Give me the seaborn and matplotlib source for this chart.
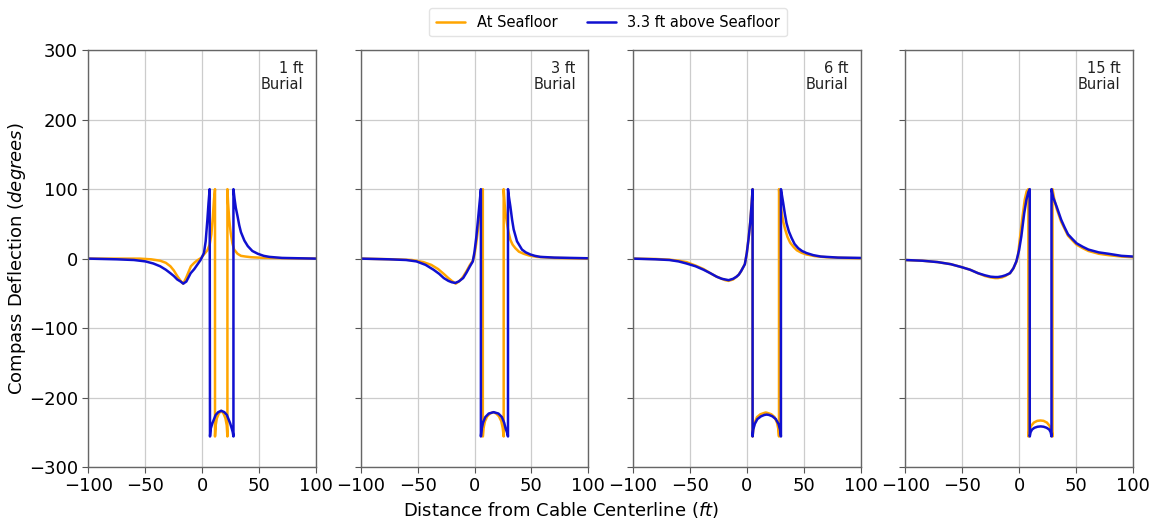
import numpy as np
import pandas as pd
import matplotlib
matplotlib.use("Agg")
import matplotlib.pyplot as plt
import seaborn as sns
from matplotlib.lines import Line2D

# ---------------- data ----------------
panels = ["1 ft\nBurial", "3 ft\nBurial", "6 ft\nBurial", "15 ft\nBurial"]
series_names = ["At Seafloor", "3.3 ft above Seafloor"]

# 1 ft burial
x_1ft_sea = [-100, -70, -55, -45, -37, -32, -28, -25, -22, -19, -16.7, -14, -10, -7, -4.3, -1, 1.5, 4.5, 6.5, 8, 9.3, 10.3, 11.2,
             11.2, 11.8, 12.8, 14.5, 16.6, 18.7, 20.4, 21.5, 22.1, 22.1, 22.7, 23.7, 25, 26.5, 28, 31, 34, 38, 43, 55, 75, 100]
y_1ft_sea = [0, 0, 0, -1, -3, -6, -11, -17, -25, -32, -36, -27, -11, -6, -2.4, 1, 6, 12, 20, 35, 60, 85, 100,
             -256, -240, -230, -223, -219, -223, -230, -240, -256, 100, 80, 56, 37, 22, 13, 7, 4, 3, 2, 1, 0.5, 0]
x_1ft_up = [-100, -75, -60, -50, -43, -37, -32, -28, -25, -22, -19, -16.7, -14, -10.2, -7, -4.3, -1.5, 1.5, 3, 4.5, 5.5, 6.5,
            6.8, 7.4, 8.9, 11.8, 14, 16.7, 19.4, 21.6, 24.5, 26, 26.8, 27.4, 27.4, 28.3, 29.5, 31, 32.5, 34, 37, 40, 44, 48.8, 54, 59, 70, 85, 100]
y_1ft_up = [0, -1, -2, -4, -7, -11, -16, -21, -25, -30, -33, -36, -33, -21, -15, -8.6, -2, 8, 25, 56, 80, 100,
            -256, -245, -237, -225, -221, -219, -221, -225, -237, -245, -250, -256, 100, 87, 73, 61, 48, 38, 26, 18, 11, 7, 4, 2.5, 1, 0.5, 0]

# 3 ft burial
x_3ft_sea = [-100, -70, -55, -45, -38, -32, -27, -23, -20, -16.5, -13, -10, -7, -4, -1.5, 0, 1.5, 3, 4.5, 6, 7.3,
             7.3, 7.9, 9.2, 11.2, 13.6, 16.4, 19.1, 21.5, 23.5, 24.8, 25.6, 25.6, 26.5, 27.5, 28.5, 30, 31.5, 33.5, 35.9, 39, 43.2, 48, 55, 70, 100]
y_3ft_sea = [0, -1, -2, -5, -9, -15, -22, -28, -32, -36, -32, -26, -18, -9, -3, 6, 22, 42, 62, 82, 100,
             -256, -244, -234, -227, -223, -221, -223, -227, -234, -244, -256, 100, 78, 62, 51, 37, 27, 20, 15, 10, 7, 4.5, 2.5, 1, 0]
x_3ft_up = [-100, -75, -60, -51, -43, -36, -31, -27, -23, -20, -17, -14, -10, -7, -4, -1.5, 0, 1.5, 3, 4.3, 5.6,
            5.6, 6.3, 7.5, 9.5, 12.5, 16.8, 21, 24, 26, 27.4, 28.5, 29.4, 29.4, 30.3, 31.5, 33, 34.4, 37.3, 41.7, 45, 49, 53, 57.8, 70, 85, 100]
y_3ft_up = [0, -1, -2, -4, -9, -16, -22, -28, -32, -34, -35, -33, -28, -20, -11, -4, 10, 30, 55, 78, 100,
            -256, -245, -236, -228, -223, -221, -223, -228, -236, -245, -250, -256, 100, 88, 75, 56, 42, 25, 13, 9, 6, 4, 2.5, 1.5, 1, 0.5]

# 6 ft burial
x_6ft_sea = [-100, -80, -68, -60, -53, -45, -38, -32, -26.5, -22, -19, -16, -12, -9, -7, -5, -3, -1.7, 0, 1.5, 3, 4.2, 5.1,
             5.1, 5.7, 7.0, 9.0, 12, 15.5, 16.7, 18, 21.5, 24.4, 26.5, 27.7, 28.3, 28.3, 29.3, 30.7, 32, 33.7, 35.8, 38.1, 41, 44, 48, 52.5, 60, 70, 85, 100]
y_6ft_sea = [0, -0.5, -1.5, -3, -5, -10, -15, -21, -26, -29, -31, -32, -30, -26, -23, -18, -12, -8, 8, 28, 52, 78, 100,
             -256, -245, -236, -228, -224, -222, -221.5, -222, -224, -228, -236, -245, -256, 100, 82, 66, 53, 42, 31, 23, 17, 12, 8.5, 6, 3.5, 2, 1, 0.5]
x_6ft_up = [-100, -80, -68, -60, -53, -45, -38, -32, -26.5, -22, -19, -16, -12, -9, -7, -5, -3, -1.7, 0, 1.5, 3, 4.2, 5.1,
            5.1, 5.7, 7.0, 9.3, 12.5, 15.5, 17.5, 19.5, 22.5, 25.5, 27.9, 29.2, 30, 30, 31, 32, 33.4, 34.9, 37, 39.3, 42, 45.2, 48.5, 52.5, 58.4, 65, 80, 100]
y_6ft_up = [0, -1, -2, -4, -7, -11, -16, -21, -26, -29, -30, -31, -29, -26, -23, -18, -12, -8, 8, 28, 52, 78, 100,
            -256, -246, -238, -231, -227, -225, -224.5, -225, -227, -231, -238, -246, -256, 100, 90, 80, 65, 51, 39, 30, 21, 15, 11, 8, 5, 3, 1.5, 1]

# 15 ft burial
x_15ft_sea = [-100, -85, -71.5, -60, -51, -43, -36, -30, -25, -21, -18.5, -15, -12, -8, -5, -2.4, -1, 0.6, 3, 5, 6.7, 8.2,
              8.2, 9, 10.5, 13, 16, 18.8, 21.5, 24.5, 27, 28.6, 29.4, 29.4, 31, 33, 37, 40, 43, 47, 50.6, 56, 61, 70, 78.5, 90, 100]
y_15ft_sea = [-2, -3, -5, -8, -12, -16, -21, -25, -27, -28, -28, -27, -25, -21, -14, -5, 4, 27, 60, 85, 97, 100,
              -256, -248, -241, -236, -233.5, -233, -233.5, -236, -241, -248, -256, 100, 85, 72, 53, 43, 33, 26, 20, 15, 11, 7, 5, 3, 2]
x_15ft_up = [-100, -85, -71.5, -60, -51, -43, -36, -30, -25, -21, -18.5, -15, -12, -8, -5, -2.4, 0, 2, 4.5, 6.5, 8.2, 9.4,
             9.4, 10.1, 11.4, 13.5, 16.2, 19, 21.6, 24.2, 26.5, 27.8, 28.5, 28.5, 30, 33, 37, 40, 43, 47, 50.6, 56, 61, 70, 78.5, 90, 100]
y_15ft_up = [-2, -3, -5, -8, -12, -16, -21, -24, -26, -26.5, -26.5, -25.5, -24, -21, -14, -4, 12, 32, 65, 85, 96, 100,
             -256, -250, -246, -243.5, -242, -241.5, -242, -243.5, -246, -250, -256, 100, 88, 75, 56, 45, 35, 28, 22, 17, 13, 9, 7, 4, 3]

curves = [
    ((x_1ft_sea, y_1ft_sea), (x_1ft_up, y_1ft_up)),
    ((x_3ft_sea, y_3ft_sea), (x_3ft_up, y_3ft_up)),
    ((x_6ft_sea, y_6ft_sea), (x_6ft_up, y_6ft_up)),
    ((x_15ft_sea, y_15ft_sea), (x_15ft_up, y_15ft_up)),
]

x_ticks = [-100, -50, 0, 50, 100]
y_ticks = [-300, -200, -100, 0, 100, 200, 300]
colors = {"At Seafloor": "#FFA500", "3.3 ft above Seafloor": "#1010D0"}

# ---------------- build tidy frame ----------------
rows = []
for pi, pair in enumerate(curves):
    for name, (xs, ys) in zip(series_names, pair):
        for k, (xv, yv) in enumerate(zip(xs, ys)):
            rows.append({"panel": pi, "series": name, "order": k, "x": xv, "y": yv})
df = pd.DataFrame(rows)

# ---------------- plot ----------------
sns.set_style("ticks")
plt.rcParams["font.family"] = ["DejaVu Sans"]
plt.rcParams["text.color"] = "black"
plt.rcParams["xtick.color"] = "black"
plt.rcParams["ytick.color"] = "black"

fig, axes = plt.subplots(1, 4, figsize=(11.56, 5.23), dpi=100, sharey=True)
fig.subplots_adjust(left=0.0765, right=0.980, bottom=0.107, top=0.904, wspace=0.196)

for pi, ax in enumerate(axes):
    sub = df[df["panel"] == pi]
    sns.lineplot(data=sub, x="x", y="y", hue="series", hue_order=series_names,
                 palette=colors, estimator=None, sort=False, units="series",
                 linewidth=1.8, ax=ax, legend=False)
    ax.set_xlim(-100, 100)
    ax.set_ylim(-300, 300)
    ax.set_xticks(x_ticks)
    ax.set_yticks(y_ticks)
    ax.grid(True, color="#cccccc", linewidth=0.9)
    ax.set_axisbelow(True)
    ax.set_xlabel("")
    ax.set_ylabel("")
    ax.tick_params(labelsize=13, length=4, color="#555555", labelcolor="black")
    for s in ax.spines.values():
        s.set_color("#666666")
        s.set_linewidth(1.0)
    ax.text(0.945, 0.975, panels[pi], transform=ax.transAxes, ha="right", va="top",
            fontsize=10.5, color="#222222", linespacing=1.15)

handles = [Line2D([0], [0], color=colors[n], lw=1.8) for n in series_names]
fig.legend(handles, series_names, loc="upper center", bbox_to_anchor=(0.526, 0.998),
           ncol=2, fontsize=10.5, frameon=True, edgecolor="#dddddd", handlelength=2.0,
           columnspacing=2.0, borderpad=0.45)

fig.text(0.485, 0.025, r"Distance from Cable Centerline ($\it{ft}$)", ha="center", va="center", fontsize=13)
fig.text(0.015, 0.505, r"Compass Deflection ($\it{degrees}$)", ha="center", va="center",
         rotation=90, fontsize=13)

fig.savefig("out.png", dpi=100)
